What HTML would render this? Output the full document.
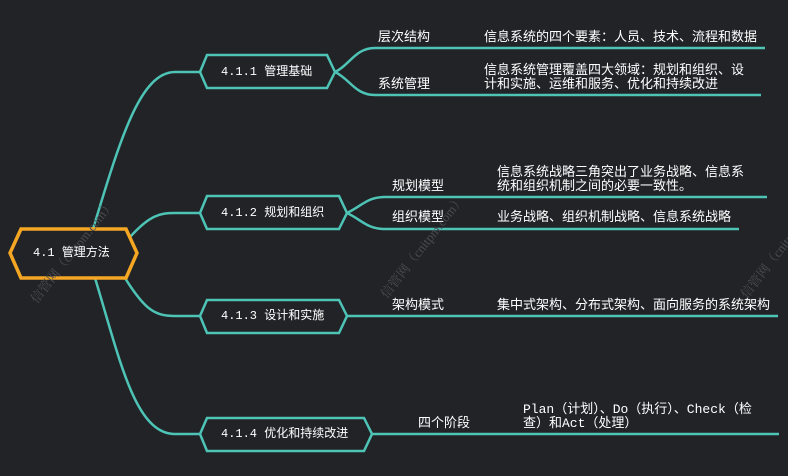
<!DOCTYPE html>
<html><head><meta charset="utf-8"><style>
html,body{margin:0;padding:0;background:#222327;}
body{width:788px;height:476px;overflow:hidden;position:relative;font-family:"Liberation Mono","Noto Sans CJK SC",monospace;}
.t{position:absolute;color:#fff;font-size:12px;line-height:14px;white-space:nowrap;}
.l{font-size:13px;line-height:14px;}
.wm{position:absolute;color:#4a4c51;font-size:13px;transform:rotate(-52deg);transform-origin:left top;white-space:nowrap;font-family:"Liberation Serif","Noto Serif CJK SC",serif;}
</style></head><body>
<svg width="788" height="476" style="position:absolute;left:0;top:0">
<g fill="none" stroke="#4dc4b6" stroke-width="2.5">
<path d="M93 229 C120 140,140 72,175 72 L200 72"/>
<path d="M130 237 C150 215,160 213,175 213 L200 213"/>
<path d="M125 278 C145 310,155 316,175 316 L200 316"/>
<path d="M95 278 C120 360,135 434,175 434 L200 434"/>
<path d="M335 72 C350 65,355 48,375 48 L765 48"/>
<path d="M335 72 C350 79,355 95,375 95 L761 95"/>
<path d="M347 213 C362 206,367 197,385 197 L767 197"/>
<path d="M347 213 C362 220,367 229,385 229 L739 229"/>
<path d="M347 316 L778 316"/>
<path d="M372 434 L779 434"/>
<polygon points="200,72 207,55 327,55 335,72 327,88 207,88"/>
<polygon points="200,213 207,196 339,196 347,213 339,229 207,229"/>
<polygon points="200,316 207,300 339,300 347,316 339,333 207,333"/>
<polygon points="200,434 207,418 364,418 372,434 364,451 207,451"/>
</g>
<polygon points="10,253 21,229 126,229 137,253 126,278 21,278" fill="#222327" stroke="#f5a623" stroke-width="3.5"/>
</svg>
<div class="wm" style="left:25px;top:295px">信管网（cnitpm.com）</div>
<div class="wm" style="left:375px;top:290px">信管网（cnitpm.com）</div>
<div class="wm" style="left:735px;top:290px">信管网（cnitpm.com）</div>
<div class="t" style="left:33px;top:246px">4.1 管理方法</div>
<div class="t" style="left:221px;top:65px">4.1.1 管理基础</div>
<div class="t" style="left:221px;top:206px">4.1.2 规划和组织</div>
<div class="t" style="left:221px;top:309px">4.1.3 设计和实施</div>
<div class="t" style="left:221px;top:427px">4.1.4 优化和持续改进</div>
<div class="t l" style="left:378px;top:31px">层次结构</div>
<div class="t l" style="left:484px;top:31px">信息系统的四个要素：人员、技术、流程和数据</div>
<div class="t l" style="left:378px;top:78px">系统管理</div>
<div class="t l" style="left:484px;top:64px">信息系统管理覆盖四大领域：规划和组织、设<br>计和实施、运维和服务、优化和持续改进</div>
<div class="t l" style="left:392px;top:180px">规划模型</div>
<div class="t l" style="left:497px;top:166px">信息系统战略三角突出了业务战略、信息系<br>统和组织机制之间的必要一致性。</div>
<div class="t l" style="left:392px;top:211px">组织模型</div>
<div class="t l" style="left:497px;top:211px">业务战略、组织机制战略、信息系统战略</div>
<div class="t l" style="left:392px;top:299px">架构模式</div>
<div class="t l" style="left:497px;top:299px">集中式架构、分布式架构、面向服务的系统架构</div>
<div class="t l" style="left:418px;top:417px">四个阶段</div>
<div class="t l" style="left:523px;top:403px">Plan（计划）、Do（执行）、Check（检<br>查）和Act（处理）</div>
</body></html>
